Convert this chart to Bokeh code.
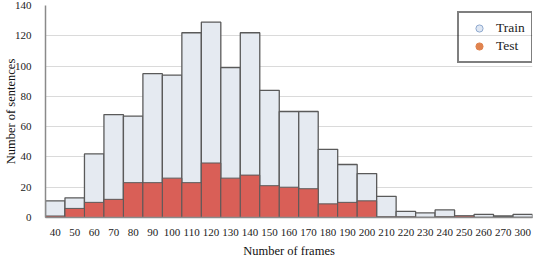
from bokeh.plotting import figure
from bokeh.models import Legend, LegendItem, ColumnDataSource, Range1d, FactorRange
from bokeh.embed import file_html
from bokeh.resources import INLINE

bins = ["40", "50", "60", "70", "80", "90", "100", "110", "120", "130", "140", "150",
        "160", "170", "180", "190", "200", "210", "220", "230", "240", "250", "260", "270", "300"]
train = [11, 13, 42, 68, 67, 95, 94, 122, 129, 99, 122, 84,
         70, 70, 45, 35, 29, 14, 4, 3, 5, 1, 2, 1, 2]
test = [1, 6, 10, 12, 23, 23, 26, 23, 36, 26, 28, 21,
        20, 19, 9, 10, 11, 0.5, 0.5, 0, 0.5, 1, 0, 0, 0]

FONT = "Liberation Serif"

p = figure(x_range=FactorRange(*bins, range_padding=0), y_range=Range1d(0, 140),
           width=538, height=260, output_backend="svg", toolbar_location=None,
           min_border_left=45, min_border_right=6, min_border_top=5, min_border_bottom=43)
p.styles = {"position": "absolute", "left": "0px", "top": "0px"}
p.outline_line_color = None
p.background_fill_color = "white"

src = ColumnDataSource(dict(x=bins, train=train, test=test))
p.vbar(x="x", top="train", width=1.0, source=src, fill_color="#e5eaf1",
       line_color="#5a5a5a", line_width=1.3)
p.vbar(x="x", top="test", width=1.0, source=src, fill_color="#d95f57",
       line_color="#5a5a5a", line_width=1.0)

p.xgrid.grid_line_color = None
p.ygrid.grid_line_color = "#dadada"
p.ygrid.grid_line_width = 1.2

for ax in (p.xaxis, p.yaxis):
    ax.major_label_text_font = FONT
    ax.major_label_text_font_size = "11px"
    ax.major_label_text_color = "#222222"
    ax.axis_label_text_font = FONT
    ax.axis_label_text_font_size = "12.5px"
    ax.axis_label_text_font_style = "normal"
    ax.axis_label_text_color = "#111111"
    ax.major_tick_line_color = None
    ax.minor_tick_line_color = None
    ax.axis_line_color = "#8a8a8a"
    ax.axis_line_width = 1.5

p.yaxis.ticker = [0, 20, 40, 60, 80, 100, 120, 140]
p.yaxis.axis_label = "Number of sentences"
p.xaxis.axis_label = "Number of frames"
p.xaxis.major_label_standoff = 5
p.xaxis.axis_label_standoff = 5
p.yaxis.major_label_standoff = 8
p.yaxis.axis_label_standoff = -6

r_train = p.scatter(x=["40"], y=[-50], size=9, marker="circle", fill_color="#dfe7f3",
                    line_color="#8ea9cf", line_width=1)
r_test = p.scatter(x=["40"], y=[-50], size=9, marker="circle", fill_color="#e0834f",
                   line_color="#e0834f")

legend = Legend(items=[LegendItem(label="Train", renderers=[r_train]),
                       LegendItem(label="Test", renderers=[r_test])],
                location=(412, 154))
legend.border_line_color = "black"
legend.border_line_width = 2
legend.label_text_font = FONT
legend.label_text_font_size = "13.5px"
legend.label_text_color = "#222222"
legend.padding = 6
legend.spacing = 0
legend.glyph_width = 28
legend.glyph_height = 18
legend.label_height = 18
legend.label_standoff = 3
legend.margin = 0
legend.background_fill_alpha = 0
p.add_layout(legend, "center")

open("out.html", "w").write(file_html(p, INLINE))
